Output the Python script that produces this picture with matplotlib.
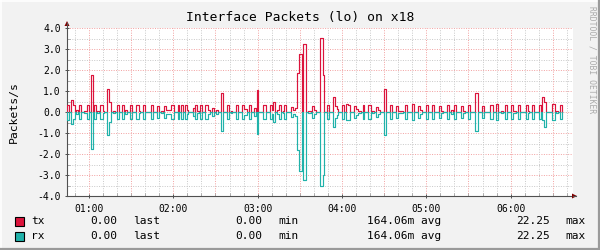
import matplotlib
matplotlib.use('Agg')
import matplotlib.pyplot as plt
from matplotlib.lines import Line2D
from matplotlib.patches import Polygon, Rectangle
from matplotlib.ticker import MultipleLocator

plt.rcParams['font.family'] = ['DejaVu Sans Mono']

# time axis in minutes after 00:00
time_start = 44.36
time_end = 404.36
data_end = 396.8

# pulses: start minute, end minute, tx packets/s, rx packets/s
pulse_start = [44.4, 47.4, 48.8, 50.8, 53.1, 56.7, 58.4, 61.2, 63.6, 65.9,
               67.8, 69.7, 72.6, 74.0, 76.8, 79.7, 83.2, 85.6, 88.9, 93.4,
               95.3, 98.4, 103.9, 108.6, 111.0, 113.3, 114.7, 118.0, 123.3, 125.2,
               128.0, 129.4, 133.7, 135.6, 137.0, 139.0, 142.7, 145.0, 147.5, 150.4,
               153.6, 158.3, 160.7, 164.3, 169.0, 170.6, 173.5, 177.3, 179.2, 183.9,
               188.6, 190.0, 191.0, 193.9, 195.3, 197.7, 198.8, 203.5, 204.9, 206.7,
               208.1, 209.5, 212.4, 215.7, 218.8, 220.2, 224.7, 226.2, 229.0, 233.3,
               235.1, 236.4, 239.9, 242.7, 244.1, 248.9, 250.3, 251.7, 254.6, 258.8,
               261.6, 264.3, 265.7, 269.8, 274.0, 278.7, 280.1, 284.9, 289.7, 294.0,
               295.8, 299.6, 304.3, 309.0, 310.4, 314.7, 317.6, 319.5, 324.5, 325.9,
               330.0, 334.7, 339.6, 345.2, 349.4, 352.9, 355.8, 360.0, 361.9, 365.0,
               370.7, 372.1, 375.0, 380.2, 382.1, 384.0, 389.7, 392.0, 394.9]
pulse_end = [45.8, 48.8, 49.8, 52.2, 54.5, 58.4, 60.2, 62.6, 65.0, 67.3,
             69.7, 70.7, 74.0, 75.4, 78.2, 81.1, 84.6, 86.8, 90.3, 95.3,
             96.3, 99.8, 105.3, 110.0, 112.4, 114.7, 118.0, 120.4, 124.2, 126.6,
             129.4, 130.8, 135.1, 137.0, 138.0, 140.4, 145.0, 146.0, 149.0, 151.8,
             155.5, 159.7, 162.1, 165.9, 170.6, 172.4, 175.0, 178.7, 180.6, 185.6,
             190.0, 191.0, 192.6, 195.3, 196.7, 198.8, 200.2, 204.9, 206.7, 208.1,
             209.5, 211.4, 214.3, 218.1, 220.2, 221.2, 226.2, 227.1, 230.9, 235.1,
             236.4, 237.3, 241.3, 244.1, 245.6, 250.3, 251.7, 253.3, 256.0, 260.7,
             263.0, 265.7, 267.0, 271.4, 275.4, 280.1, 283.7, 286.3, 291.1, 295.8,
             296.8, 301.5, 305.7, 310.4, 311.8, 316.1, 319.0, 321.4, 325.9, 327.5,
             331.4, 336.6, 341.0, 347.1, 351.3, 354.3, 357.2, 361.9, 363.5, 366.4,
             372.1, 373.0, 376.9, 381.6, 384.0, 385.4, 391.5, 393.4, 396.8]
tx_vals = [0.35, 0.55, 0.35, 0.11, 0.35, 0.06, 0.35, 1.75, 0.35, 0.06,
           0.35, 0.06, 1.10, 0.48, 0.06, 0.35, 0.35, 0.11, 0.35, 0.35,
           0.06, 0.35, 0.35, 0.27, 0.06, 0.27, 0.10, 0.33, 0.35, 0.35,
           0.35, 0.10, 0.20, 0.35, 0.06, 0.35, 0.35, 0.10, 0.20, 0.10,
           0.90, 0.35, 0.06, 0.33, 0.33, 0.14, 0.33, 0.19, 1.06, 0.33,
           0.33, 0.10, 0.49, 0.10, 0.33, 0.06, 0.33, 0.24, 0.10, 0.19,
           1.86, 2.76, 3.24, 0.06, 0.27, 0.10, 3.52, 1.75, 0.33, 0.71,
           0.27, 0.14, 0.33, 0.40, 0.33, 0.30, 0.14, 0.06, 0.33, 0.33,
           0.06, 0.24, 0.10, 1.10, 0.33, 0.27, 0.06, 0.32, 0.38, 0.27,
           0.10, 0.32, 0.35, 0.27, 0.06, 0.35, 0.10, 0.32, 0.27, 0.06,
           0.32, 0.90, 0.27, 0.32, 0.38, 0.06, 0.35, 0.32, 0.06, 0.35,
           0.35, 0.06, 0.32, 0.32, 0.71, 0.50, 0.38, 0.06, 0.32]
rx_vals = [0.40, 0.55, 0.35, 0.11, 0.35, 0.06, 0.35, 1.75, 0.35, 0.06,
           0.35, 0.06, 1.10, 0.48, 0.06, 0.35, 0.35, 0.11, 0.35, 0.35,
           0.06, 0.35, 0.35, 0.27, 0.06, 0.27, 0.10, 0.33, 0.35, 0.35,
           0.35, 0.10, 0.20, 0.35, 0.06, 0.35, 0.35, 0.10, 0.20, 0.10,
           0.90, 0.35, 0.06, 0.33, 0.33, 0.14, 0.33, 0.19, 1.06, 0.33,
           0.33, 0.10, 0.49, 0.10, 0.33, 0.06, 0.33, 0.24, 0.10, 0.19,
           1.80, 2.82, 3.24, 0.06, 0.27, 0.10, 3.52, 3.00, 0.33, 0.71,
           0.27, 0.14, 0.33, 0.40, 0.37, 0.30, 0.14, 0.06, 0.33, 0.33,
           0.06, 0.24, 0.10, 1.10, 0.33, 0.27, 0.06, 0.32, 0.38, 0.27,
           0.10, 0.32, 0.35, 0.27, 0.06, 0.35, 0.10, 0.32, 0.27, 0.06,
           0.32, 0.90, 0.27, 0.32, 0.38, 0.06, 0.35, 0.32, 0.06, 0.35,
           0.35, 0.06, 0.32, 0.32, 0.40, 0.73, 0.38, 0.06, 0.32]

hour_ticks = [60, 120, 180, 240, 300, 360]
hour_labels = ['01:00', '02:00', '03:00', '04:00', '05:00', '06:00']
y_ticks = [4, 3, 2, 1, 0, -1, -2, -3, -4]

series_names = ['tx', 'rx']
series_colors = ['#DC143C', '#20B2AA']
legend_last = ['0.00', '0.00']
legend_min = ['0.00', '0.00']
legend_avg = ['164.06m', '164.06m']
legend_max = ['22.25', '22.25']


def step_path(vals, sign):
	xs, ys = [time_start], [0.0]
	prev_end = None
	for s, e, v in zip(pulse_start, pulse_end, vals):
		if prev_end is not None and abs(s - prev_end) < 1e-9:
			xs.pop()
			ys.pop()
			xs += [s, e, e]
			ys += [sign * v, sign * v, 0.0]
		else:
			xs += [s, s, e, e]
			ys += [0.0, sign * v, sign * v, 0.0]
		prev_end = e
	xs.append(data_end)
	ys.append(0.0)
	return xs, ys


def px(x, y):
	return (x / 600.0, 1 - y / 250.0)


def main():
	fig = plt.figure(figsize=(6, 2.5), dpi=100, facecolor='#F2F2F2')
	# 3d frame
	fig.add_artist(Line2D([0, 1], [1 - 0.5 / 250, 1 - 0.5 / 250], color='#FFFFFF', lw=1.2, transform=fig.transFigure))
	fig.add_artist(Line2D([0.5 / 600, 0.5 / 600], [0, 1], color='#FFFFFF', lw=1.2, transform=fig.transFigure))
	fig.add_artist(Line2D([0, 1], [1 / 250, 1 / 250], color='#9A9A9A', lw=1.6, transform=fig.transFigure))
	fig.add_artist(Line2D([1 - 1 / 600, 1 - 1 / 600], [0, 1], color='#9A9A9A', lw=1.6, transform=fig.transFigure))

	left, right, top, bottom = 67, 573, 28, 196
	ax = fig.add_axes([left / 600, 1 - bottom / 250, (right - left) / 600, (bottom - top) / 250])
	ax.set_facecolor('white')
	ax.set_xlim(time_start, time_end)
	ax.set_ylim(-4, 4)

	# grid
	for y in [-3.5, -2.5, -1.5, -0.5, 0.5, 1.5, 2.5, 3.5]:
		ax.axhline(y, color='#C8C8C8', lw=0.7, dashes=(1, 1.5), zorder=0)
	for y in [-3, -2, -1, 0, 1, 2, 3, 4]:
		ax.axhline(y, color='#F2A0A0', lw=0.7, dashes=(1, 1.5), zorder=0)
	for m in range(50, 405, 10):
		if m % 30 == 0:
			ax.axvline(m, color='#F2A0A0', lw=0.7, dashes=(1, 1.5), zorder=0)
		else:
			ax.axvline(m, color='#C8C8C8', lw=0.7, dashes=(1, 1.5), zorder=0)

	tx_x, tx_y = step_path(tx_vals, 1)
	rx_x, rx_y = step_path(rx_vals, -1)
	ax.plot(tx_x, tx_y, color=series_colors[0], lw=0.85, zorder=3)
	ax.plot(rx_x, rx_y, color=series_colors[1], lw=0.85, zorder=4)

	ax.set_xticks(hour_ticks)
	ax.set_xticklabels(hour_labels)
	ax.set_yticks(y_ticks)
	ax.set_yticklabels(['%.1f' % v for v in y_ticks])
	ax.xaxis.set_minor_locator(MultipleLocator(10))
	ax.yaxis.set_minor_locator(MultipleLocator(0.5))
	ax.tick_params(axis='both', which='major', labelsize=7, length=3, width=0.7,
				   color='#505050', direction='inout', pad=3)
	ax.tick_params(axis='both', which='minor', length=2, width=0.5, color='#909090', direction='in')
	ax.tick_params(axis='x', which='major', pad=4)

	for sp in ['top', 'right']:
		ax.spines[sp].set_visible(False)
	for sp in ['left', 'bottom']:
		ax.spines[sp].set_color('#505050')
		ax.spines[sp].set_linewidth(0.8)

	# axis arrows
	fig.add_artist(Line2D([px(573, 0)[0], px(576, 0)[0]], [px(0, 196)[1]] * 2, color='#505050', lw=0.8,
						  transform=fig.transFigure))
	fig.add_artist(Line2D([px(67, 0)[0]] * 2, [px(0, 28)[1], px(0, 23)[1]], color='#505050', lw=0.8,
						  transform=fig.transFigure))
	fig.add_artist(Polygon([px(572, 193.5), px(577, 196), px(572, 198.5)], closed=True,
						   facecolor='#800000', edgecolor='none', transform=fig.transFigure))
	fig.add_artist(Polygon([px(64.5, 26), px(67, 21), px(69.5, 26)], closed=True,
						   facecolor='#800000', edgecolor='none', transform=fig.transFigure))

	fig.text(*px(300, 18), 'Interface Packets (lo) on x18', ha='center', va='center', fontsize=9.4)
	fig.text(*px(14, 112), 'Packets/s', ha='center', va='center', rotation=90, fontsize=8.2)
	fig.text(*px(592, 60), 'RRDTOOL / TOBI OETIKER', ha='center', va='center', rotation=270,
			 fontsize=5.8, color='#AAAAAA')

	# legend
	for i, name in enumerate(series_names):
		y = 221 + 15 * i
		fig.add_artist(Rectangle(px(15, y + 4.5), 9 / 600, 9 / 250, facecolor=series_colors[i],
								 edgecolor='black', lw=0.8, transform=fig.transFigure))
		fig.text(*px(31, y), name, ha='left', va='center', fontsize=8)
		fig.text(*px(117, y), legend_last[i], ha='right', va='center', fontsize=8)
		fig.text(*px(133, y), 'last', ha='left', va='center', fontsize=8)
		fig.text(*px(262, y), legend_min[i], ha='right', va='center', fontsize=8)
		fig.text(*px(278, y), 'min', ha='left', va='center', fontsize=8)
		fig.text(*px(441, y), legend_avg[i] + ' avg', ha='right', va='center', fontsize=8)
		fig.text(*px(550, y), legend_max[i], ha='right', va='center', fontsize=8)
		fig.text(*px(565, y), 'max', ha='left', va='center', fontsize=8)

	fig.savefig('out.png', dpi=100, facecolor=fig.get_facecolor())


if __name__ == '__main__':
	main()
